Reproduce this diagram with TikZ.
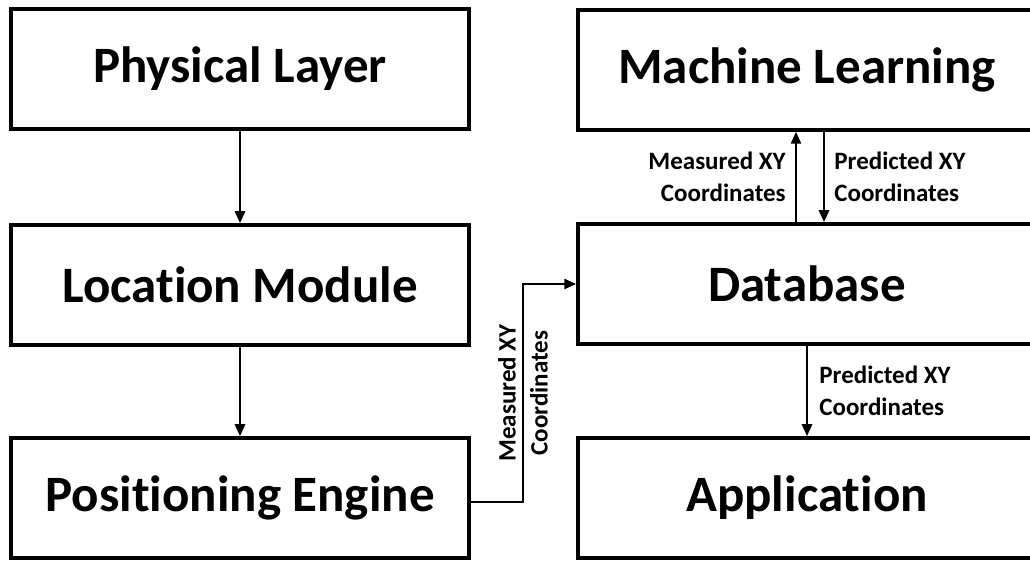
\documentclass[tikz,border=0pt]{standalone}
\usepackage{fontspec}
\setmainfont{Carlito}[Ligatures=NoCommon]
\usetikzlibrary{arrows.meta}

\begin{document}
\begin{tikzpicture}[x=1pt,y=1pt]
	\tikzstyle{Layer}=[draw,line width=3.5pt,minimum width=458pt,minimum height=120pt,inner sep=0pt,font=\fontsize{51}{60}\selectfont\bfseries]
	\tikzstyle{Flow}=[line width=2.7pt,-{Triangle[length=12pt,width=10pt]}]
	\tikzstyle{Tag}=[inner sep=0pt,font=\fontsize{25}{32}\selectfont\bfseries]
	\clip (0,0) rectangle (1030,561);
	\node[Layer] (phys) at (240,492) {Physical Layer};
	\node[Layer] (loc) at (240,276) {Location Module};
	\node[Layer] (pos) at (240,63) {Positioning Engine};
	\node[Layer] (ml) at (807,491) {Machine Learning};
	\node[Layer] (db) at (807,277) {Database};
	\node[Layer] (app) at (807,63) {Application};
	\coordinate (bend) at (523,0);
	\draw[Flow] (phys) -- (loc);
	\draw[Flow] (loc) -- (pos);
	\draw[Flow] ([yshift=-4pt]pos.east) -- ([yshift=-4pt]pos.east -| bend) |- node[Tag,pos=0.25,rotate=90,align=center]{Measured XY\\Coordinates} (db.west);
	\draw[Flow] ([xshift=-11pt]db.north) -- node[Tag,left=9pt,align=right]{Measured XY\\Coordinates} ([xshift=-11pt]ml.south);
	\draw[Flow] ([xshift=17pt]ml.south) -- node[Tag,right=9pt,align=left]{Predicted XY\\Coordinates} ([xshift=17pt]db.north);
	\draw[Flow] (db) -- node[Tag,right=11pt,align=left]{Predicted XY\\Coordinates} (app);
\end{tikzpicture}
\end{document}
